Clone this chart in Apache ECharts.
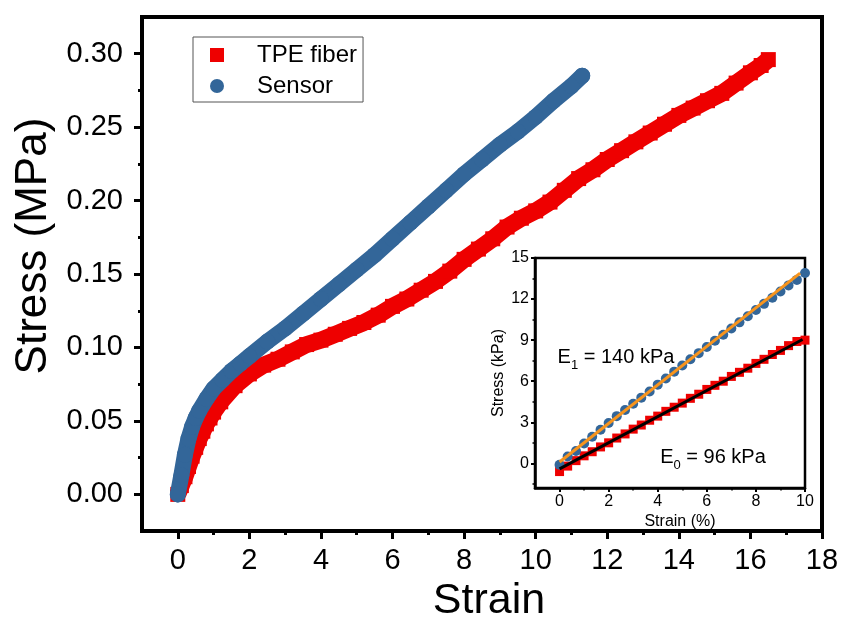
<!DOCTYPE html>
<html>
<head>
<meta charset="utf-8">
<script src="https://cdn.jsdelivr.net/npm/echarts@6/dist/echarts.min.js"></script>
<style>html,body{margin:0;padding:0;background:#fff;}#c{width:845px;height:628px;}</style>
</head>
<body>
<div id="c"></div>
<script>
// ---- Main chart data ----
const tpeStrain = [0,0.1,0.2,0.3,0.4,0.5,0.6,0.7,0.8,0.9,1.0,1.2,1.6,2.0,2.4,2.8,3.2,3.6,4.0,4.4,4.8,5.2,5.6,6.0,6.4,6.8,7.2,7.6,8.0,8.4,8.8,9.2,9.6,10.0,10.4,10.8,11.2,11.6,12.0,12.4,12.8,13.2,13.6,14.0,14.4,14.8,15.2,15.6,16.0,16.3,16.5];
const tpeStress = [0,0.006,0.012,0.019,0.026,0.032,0.038,0.043,0.048,0.052,0.056,0.063,0.074,0.082,0.088,0.092,0.097,0.102,0.105,0.109,0.113,0.117,0.122,0.128,0.133,0.139,0.145,0.152,0.160,0.167,0.174,0.182,0.188,0.193,0.199,0.207,0.215,0.221,0.228,0.234,0.240,0.246,0.252,0.258,0.263,0.268,0.273,0.280,0.287,0.292,0.296];
const sensorStrain = [0,0.1,0.2,0.3,0.4,0.5,0.6,0.8,1.0,1.25,1.5,1.75,2.0,2.5,3.0,3.5,4.0,4.5,5.0,5.5,6.0,6.5,7.0,7.5,8.0,8.5,9.0,9.5,10.0,10.5,11.0,11.3];
const sensorStress = [0,0.013,0.027,0.038,0.046,0.052,0.057,0.065,0.072,0.078,0.084,0.089,0.094,0.104,0.113,0.123,0.133,0.143,0.153,0.163,0.174,0.185,0.196,0.207,0.218,0.228,0.238,0.247,0.257,0.268,0.278,0.285];
const mainXTicks = [0,2,4,6,8,10,12,14,16,18];
const mainXMinor = [1,3,5,7,9,11,13,15,17];
const mainYTicks = [0,0.05,0.10,0.15,0.20,0.25,0.30];
const mainYMinor = [0.025,0.075,0.125,0.175,0.225,0.275];

// ---- Inset data ----
const insetStrain = [0,0.33,0.67,1.0,1.33,1.67,2.0,2.33,2.67,3.0,3.33,3.67,4.0,4.33,4.67,5.0,5.33,5.67,6.0,6.33,6.67,7.0,7.33,7.67,8.0,8.33,8.67,9.0,9.33,9.67,10.0];
const insetTpe = [-0.6,-0.2,0.2,0.55,0.85,1.2,1.5,1.85,2.15,2.5,2.8,3.15,3.45,3.8,4.1,4.4,4.75,5.05,5.4,5.7,6.0,6.35,6.65,6.95,7.3,7.6,7.95,8.25,8.6,8.9,9.0];
const insetSensor = [-0.1,0.5,0.9,1.45,1.95,2.45,2.95,3.45,3.9,4.35,4.8,5.25,5.75,6.2,6.7,7.15,7.6,8.05,8.5,8.95,9.4,9.85,10.3,10.75,11.2,11.65,12.1,12.55,13.0,13.4,13.9];
const fitE1Strain = [0,9.8];
const fitE1Stress = [0.1,13.9];
const fitE0Strain = [0,9.9];
const fitE0Stress = [-0.4,9.05];
const insetXTicks = [0,2,4,6,8,10];
const insetXMinor = [1,3,5,7,9];
const insetYTicks = [0,3,6,9,12,15];
const insetYMinor = [-1.5,1.5,4.5,7.5,10.5,13.5];

const zip = (a,b) => a.map((v,i)=>[v,b[i]]);
const RED = '#ee0000', BLUE = '#336699', ORANGE = '#f7941d';
const FONT = 'Liberation Sans, Arial, sans-serif';

const chart = echarts.init(document.getElementById('c'), null, {renderer:'canvas'});
const option = {
  animation: false,
  backgroundColor: '#fff',
  textStyle: {fontFamily: FONT, color:'#000'},
  grid: [
    {left:142, right:23, top:17, bottom:88, show:true, borderColor:'#000', borderWidth:4, backgroundColor:'transparent'},
    {left:535, right:40, top:258, bottom:140, show:true, borderColor:'#000', borderWidth:2.5, backgroundColor:'#fff'}
  ],
  legend: {
    orient:'vertical', left:193, top:37,
    data:[{name:'TPE fiber', icon:'rect'},{name:'Sensor', icon:'circle'}],
    itemWidth:14, itemHeight:14, itemGap:7,
    borderColor:'#555', borderWidth:1, borderRadius:0,
    padding:[6,6,4,17],
    textStyle:{fontSize:24, fontFamily:FONT, color:'#000', padding:[0,0,0,28], lineHeight:24}
  },
  xAxis: [
    {gridIndex:0, type:'value', position:'bottom', min:-1, max:18,
     name:'Strain', nameLocation:'middle', nameGap:42,
     nameTextStyle:{fontSize:43, fontFamily:FONT, color:'#000', padding:[0,0,0,14]},
     axisLine:{show:true, onZero:false, lineStyle:{color:'#000', width:4}},
     axisTick:{show:true, inside:false, length:8, lineStyle:{width:3, color:'#000'}, customValues:mainXTicks},
     axisLabel:{fontSize:29, color:'#000', margin:15, customValues:mainXTicks},
     splitLine:{show:false}},
    {gridIndex:0, type:'value', position:'bottom', min:-1, max:18,
     axisLine:{show:false, onZero:false},
     axisTick:{show:true, length:4, lineStyle:{width:3, color:'#000'}, customValues:mainXMinor},
     axisLabel:{show:false}, splitLine:{show:false}},
    {gridIndex:1, type:'value', position:'bottom', min:-1, max:10,
     name:'Strain (%)', nameLocation:'middle', nameGap:26,
     nameTextStyle:{fontSize:16, fontFamily:FONT, color:'#000', padding:[0,0,0,20]},
     axisLine:{show:true, onZero:false, lineStyle:{color:'#000', width:2.5}},
     axisTick:{show:true, length:4, lineStyle:{width:2, color:'#000'}, customValues:insetXTicks},
     axisLabel:{fontSize:16, color:'#000', margin:6, customValues:insetXTicks},
     splitLine:{show:false}},
    {gridIndex:1, type:'value', position:'bottom', min:-1, max:10,
     axisLine:{show:false, onZero:false},
     axisTick:{show:true, length:2.5, lineStyle:{width:1.5, color:'#000'}, customValues:insetXMinor},
     axisLabel:{show:false}, splitLine:{show:false}}
  ],
  yAxis: [
    {gridIndex:0, type:'value', position:'left', min:-0.025, max:0.325,
     name:'Stress (MPa)', nameLocation:'middle', nameGap:86,
     nameTextStyle:{fontSize:44, fontFamily:FONT, color:'#000', padding:[0,0,0,56]},
     axisLine:{show:true, onZero:false, lineStyle:{color:'#000', width:4}},
     axisTick:{show:true, inside:false, length:8, lineStyle:{width:3, color:'#000'}, customValues:mainYTicks},
     axisLabel:{fontSize:29, color:'#000', margin:19, customValues:mainYTicks, formatter:v=>v.toFixed(2)},
     splitLine:{show:false}},
    {gridIndex:0, type:'value', position:'left', min:-0.025, max:0.325,
     axisLine:{show:false, onZero:false},
     axisTick:{show:true, length:4, lineStyle:{width:3, color:'#000'}, customValues:mainYMinor},
     axisLabel:{show:false}, splitLine:{show:false}},
    {gridIndex:1, type:'value', position:'left', min:-1.8, max:15,
     name:'Stress (kPa)', nameLocation:'middle', nameGap:28,
     nameTextStyle:{fontSize:16, fontFamily:FONT, color:'#000'},
     axisLine:{show:true, onZero:false, lineStyle:{color:'#000', width:2.5}},
     axisTick:{show:true, length:4, lineStyle:{width:2, color:'#000'}, customValues:insetYTicks},
     axisLabel:{fontSize:16, color:'#000', margin:6, customValues:insetYTicks},
     splitLine:{show:false}},
    {gridIndex:1, type:'value', position:'left', min:-1.8, max:15,
     axisLine:{show:false, onZero:false},
     axisTick:{show:true, length:2.5, lineStyle:{width:1.5, color:'#000'}, customValues:insetYMinor},
     axisLabel:{show:false}, splitLine:{show:false}}
  ],
  series: [
    {name:'TPE fiber', type:'line', xAxisIndex:0, yAxisIndex:0, data:zip(tpeStrain,tpeStress),
     symbol:'rect', symbolSize:15, showSymbol:true, color:RED,
     itemStyle:{color:RED}, lineStyle:{color:RED, width:17, join:'round'}, z:2},
    {name:'Sensor', type:'line', xAxisIndex:0, yAxisIndex:0, data:zip(sensorStrain,sensorStress),
     symbol:'circle', symbolSize:16, showSymbol:true, color:BLUE,
     itemStyle:{color:BLUE}, lineStyle:{color:BLUE, width:16, cap:'round', join:'round'}, z:3},
    {name:'insetTpe', type:'scatter', xAxisIndex:2, yAxisIndex:2, data:zip(insetStrain,insetTpe),
     symbol:'rect', symbolSize:9, itemStyle:{color:RED, opacity:1}, z:4},
    {name:'insetSensor', type:'scatter', xAxisIndex:2, yAxisIndex:2, data:zip(insetStrain,insetSensor),
     symbol:'circle', symbolSize:10, itemStyle:{color:BLUE, opacity:1}, z:4,
     markPoint:{symbol:'circle', symbolSize:0, silent:true,
       data:[
         {coord:[2.3,7.9], label:{show:true, formatter:'{a|E}{s|1}{a| = 140 kPa}'}},
         {coord:[6.25,0.6], label:{show:true, formatter:'{a|E}{s|0}{a| = 96 kPa}'}}
       ],
       label:{position:'inside', color:'#000', fontFamily:FONT,
         rich:{a:{fontSize:20, color:'#000', fontFamily:FONT, lineHeight:24, verticalAlign:'bottom'},
               s:{fontSize:13, color:'#000', fontFamily:FONT, lineHeight:14, verticalAlign:'bottom', padding:[0,0,-5,0]}}}}},
    {name:'fitE0', type:'line', xAxisIndex:2, yAxisIndex:2, data:zip(fitE0Strain,fitE0Stress),
     showSymbol:false, symbol:'none', lineStyle:{color:'#000', width:3}, z:5},
    {name:'fitE1', type:'line', xAxisIndex:2, yAxisIndex:2, data:zip(fitE1Strain,fitE1Stress),
     showSymbol:false, symbol:'none', lineStyle:{color:ORANGE, width:3}, z:5}
  ]
};
chart.setOption(option);
</script>
</body>
</html>
